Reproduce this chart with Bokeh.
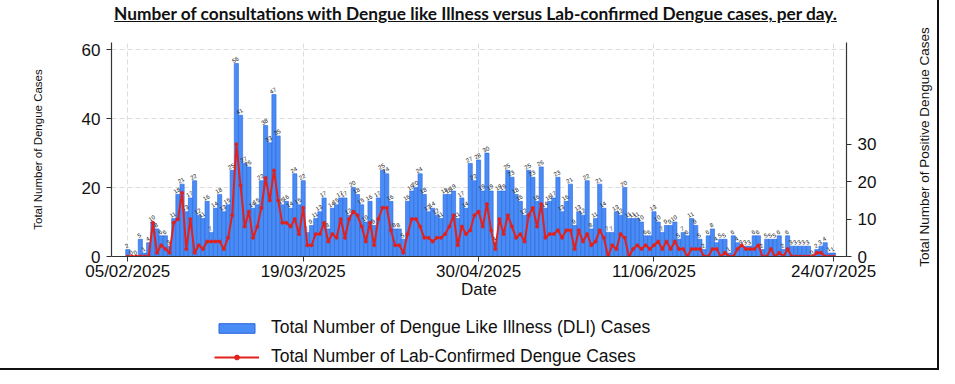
import math
from datetime import datetime, timedelta

from bokeh.plotting import figure
from bokeh.models import (Range1d, LinearAxis, FixedTicker, DatetimeTickFormatter,
                          Legend, LegendItem, Div, ColumnDataSource)
from bokeh.layouts import column
from bokeh.embed import file_html
from bokeh.resources import INLINE
from bokeh.core.properties import value

# ---------------- data ----------------
start_date = "2025-02-05"

dli_cases = [
    2, 0, 0, 5, 1, 4, 10, 8, 6, 6, 3, 11, 18, 21, 13, 17, 22, 12, 11, 16,
    7, 14, 18, 13, 15, 25, 56, 41, 27, 26, 14, 15, 22, 38, 33, 47, 35, 15, 16, 14,
    24, 15, 22, 7, 9, 11, 13, 17, 8, 14, 15, 17, 17, 12, 20, 18, 15, 10, 16, 9,
    17, 25, 24, 16, 8, 8, 5, 16, 19, 20, 24, 18, 13, 14, 12, 11, 18, 18, 19, 11,
    17, 14, 27, 22, 28, 19, 30, 19, 4, 19, 19, 25, 23, 18, 16, 12, 25, 23, 16, 26,
    14, 16, 17, 23, 13, 16, 21, 9, 13, 12, 22, 8, 11, 21, 14, 7, 7, 13, 12, 20,
    11, 11, 11, 10, 6, 6, 13, 10, 7, 9, 9, 10, 5, 7, 6, 11, 9, 5, 2, 6,
    8, 4, 5, 5, 1, 6, 4, 3, 3, 3, 6, 6, 2, 5, 5, 5, 6, 2, 6, 3,
    3, 3, 3, 3, 0, 2, 3, 4, 1, 1,
]

lab_confirmed = [
    0, 0, 0, 0, 0, 0, 9, 1, 3, 2, 1, 9, 10, 17, 2, 10, 1, 3, 2, 4,
    4, 4, 4, 2, 5, 11, 30, 19, 8, 12, 5, 8, 13, 21, 15, 23, 15, 9, 9, 8,
    10, 6, 13, 3, 3, 6, 6, 9, 4, 6, 5, 10, 5, 10, 12, 11, 8, 4, 9, 3,
    10, 13, 13, 7, 3, 3, 1, 6, 10, 10, 8, 5, 5, 4, 5, 5, 6, 8, 11, 3,
    8, 6, 7, 11, 12, 8, 14, 7, 2, 10, 6, 11, 8, 5, 6, 4, 11, 13, 8, 14,
    5, 6, 6, 7, 5, 7, 7, 2, 7, 4, 6, 3, 4, 7, 5, 0, 3, 2, 6, 5,
    0, 2, 3, 2, 3, 2, 3, 4, 2, 4, 2, 4, 2, 2, 0, 2, 2, 2, 0, 0,
    2, 2, 0, 1, 0, 0, 2, 3, 2, 2, 2, 3, 0, 0, 2, 0, 1, 0, 2, 0,
    0, 0, 0, 0, 0, 1, 1, 0, 0, 0,
]

date_tick_labels = ["05/02/2025", "19/03/2025", "30/04/2025", "11/06/2025", "24/07/2025"]
left_ticks = [0, 20, 40, 60]
right_ticks = [0, 10, 20, 30]

title_text = "Number of consultations with Dengue like Illness versus Lab-confirmed Dengue cases, per day."
left_label = "Total Number of Dengue Cases"
right_label = "Total Number of Positive Dengue Cases"
x_label = "Date"
dli_name = "Total Number of Dengue Like Illness (DLI) Cases"
lab_name = "Total Number of Lab-Confirmed Dengue Cases"

# ---------------- styles ----------------
FONT = "Liberation Sans"
BAR_FILL, BAR_LINE = "#4a8cf6", "#2a66dc"
RED = "#e3211c"

# ---------------- main chart ----------------
t0 = datetime.strptime(start_date, "%Y-%m-%d")
dates = [t0 + timedelta(days=i) for i in range(len(dli_cases))]
tick_dates = [datetime.strptime(s, "%d/%m/%Y") for s in date_tick_labels]
tick_ms = [(d - datetime(1970, 1, 1)).total_seconds() * 1000 for d in tick_dates]

src = ColumnDataSource(dict(date=dates, dli=dli_cases, lab=lab_confirmed,
                            lbl=[str(v) for v in dli_cases]))

p = figure(width=937, height=280, x_axis_type="datetime",
           x_range=Range1d(t0 - timedelta(days=3.9), t0 + timedelta(days=172.1)),
           y_range=Range1d(0, 62.1),
           output_backend="svg", toolbar_location=None,
           min_border_left=111, min_border_right=91, min_border_top=14,
           min_border_bottom=52)
p.outline_line_color = None
p.border_fill_alpha = 0

p.extra_y_ranges = {"pos": Range1d(0, 57.2)}

bars = p.vbar(x="date", top="dli", width=86400000 * 1.0, source=src,
              fill_color=BAR_FILL, line_color=BAR_LINE, line_width=0.6)
p.text(x="date", y="dli", text="lbl", source=src, angle=0.5,
       text_font=value(FONT), text_font_size="6px", text_color="#222222",
       text_align="center", text_baseline="bottom", y_offset=-2)
p.line(x="date", y="lab", source=src, y_range_name="pos",
       line_color=RED, line_width=2)
p.scatter(x="date", y="lab", source=src, y_range_name="pos",
          size=3, fill_color=RED, line_color=RED)

p.xaxis.ticker = FixedTicker(ticks=tick_ms)
p.xaxis.formatter = DatetimeTickFormatter(days="%d/%m/%Y", months="%d/%m/%Y",
                                          years="%d/%m/%Y", hours="%d/%m/%Y")
p.xaxis.axis_label = x_label
p.xaxis.major_label_standoff = 0
p.xaxis.axis_label_standoff = -4

p.yaxis.ticker = FixedTicker(ticks=left_ticks)
p.yaxis.axis_label = left_label
p.yaxis.major_label_standoff = 6
p.yaxis.axis_label_standoff = 35

ra = LinearAxis(y_range_name="pos", ticker=FixedTicker(ticks=right_ticks))
ra.major_label_standoff = 6
p.add_layout(ra, "right")

for ax in [p.xaxis[0], p.yaxis[0], ra]:
    ax.major_tick_out = 5
    ax.major_tick_in = 0
    ax.minor_tick_out = 0
    ax.minor_tick_in = 0
    ax.axis_line_color = "#333333"
    ax.axis_line_width = 1.2
    ax.major_tick_line_color = "#333333"
    ax.major_label_text_font = FONT
    ax.major_label_text_font_size = "17px"
    ax.major_label_text_color = "#111111"
    ax.axis_label_text_font = FONT
    ax.axis_label_text_font_style = "normal"
    ax.axis_label_text_color = "#111111"

p.xaxis.axis_label_text_font_size = "17px"
p.yaxis.axis_label_text_font_size = "11.5px"

for g in [p.xgrid[0], p.ygrid[0]]:
    g.grid_line_color = "#dddddd"
    g.grid_line_dash = "5 3"
    g.grid_line_width = 1

# ---------------- legend strip ----------------
lg = figure(width=937, height=60, x_range=Range1d(0, 1), y_range=Range1d(0, 1),
            output_backend="svg", toolbar_location=None,
            x_axis_location=None, y_axis_location=None,
            min_border_left=111, min_border_right=91,
            min_border_top=0, min_border_bottom=0)
lg.outline_line_color = None
lg.grid.visible = False
k_bar = lg.vbar(x=[0.5], top=[1], width=0.1, fill_color=BAR_FILL, line_color=BAR_LINE,
                visible=False)
k_line = lg.line(x=[0.4, 0.6], y=[0.5, 0.5], line_color=RED, line_width=2, visible=False)
k_pts = lg.scatter(x=[0.5], y=[0.5], size=3, fill_color=RED, line_color=RED, visible=False)

legend = Legend(items=[LegendItem(label=dli_name, renderers=[k_bar]),
                       LegendItem(label=lab_name, renderers=[k_line, k_pts])],
                location=(103, 1), orientation="vertical",
                glyph_width=45, glyph_height=12, label_standoff=12,
                spacing=8, padding=0, margin=0,
                border_line_alpha=0, background_fill_alpha=0,
                inactive_fill_alpha=0,
                label_text_font=FONT, label_text_font_size="17.5px",
                label_text_color="#111111")
lg.add_layout(legend, "center")

# ---------------- title (and right-hand axis title, bottom-to-top) ----------------
title = Div(text=('<div style="font-family:Lato;font-weight:bold;font-size:17.3px;'
                  'text-align:center;text-decoration:underline;line-height:16px;'
                  'width:937px;box-sizing:border-box;padding:6px 0 0 14px;margin:0;'
                  'color:#111;">' + title_text + '</div>'
                  '<div style="position:absolute;left:925px;top:147px;'
                  'transform:translate(-50%,-50%) rotate(-90deg);white-space:nowrap;'
                  'font-family:\'Liberation Sans\';font-size:13.5px;color:#111;'
                  'z-index:10;">' + right_label + '</div>'),
            width=937, height=28, margin=0, styles={"overflow": "visible", "z-index": "10"})

layout = column(title, p, lg, styles={"border-right": "2px solid #111",
                                      "border-bottom": "2px solid #111"})

open("out.html", "w").write(file_html(layout, INLINE))
